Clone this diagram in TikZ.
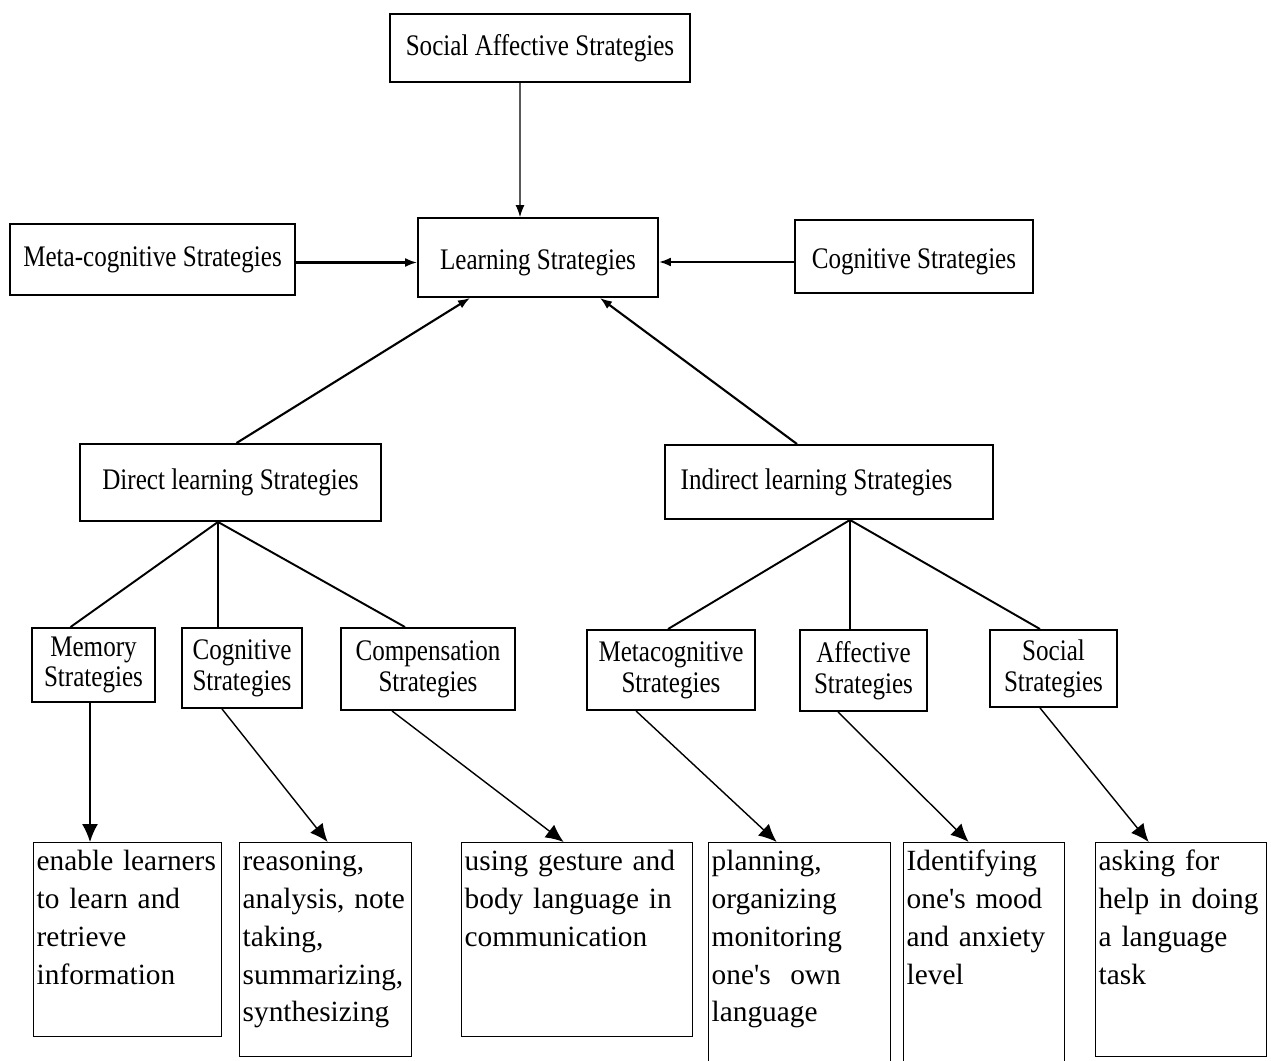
\documentclass[tikz,border=0pt]{standalone}
\usepackage{fontspec}
\setmainfont{Liberation Serif}
\newfontfamily\condfont[FakeStretch=0.84]{Liberation Serif}
\usetikzlibrary{arrows.meta}

\begin{document}
\begin{tikzpicture}[x = 0.02cm, y = -0.02cm,
        box/.style = {draw, line width = 1.1pt, align = center, inner sep = 0pt,
            font = \condfont\fontsize{17}{17.5}\selectfont},
        note/.style = {draw, line width = 0.8pt, anchor = north west, align = left,
            inner xsep = 0.06cm, inner ysep = 0pt, text height = 0.56cm,
            font = \fontsize{16.7}{21.5}\selectfont},
        up/.style = {-{Latex[length = 0.24cm, width = 0.18cm]}, line width = 1.2pt},
        down/.style = {-{Latex[length = 0.36cm, width = 0.32cm]}, line width = 0.8pt}
    ]
        \useasboundingbox (0, 0) rectangle (1271, 1061);

        \node [box, minimum width = 6cm, minimum height = 1.36cm] (social) at (540, 48) {Social Affective Strategies};
        \node [box, minimum width = 4.8cm, minimum height = 1.58cm] (learn) at (538, 257.5) {\raisebox{-0.14cm}[9pt][3pt]{Learning Strategies}};
        \node [box, minimum width = 5.7cm, minimum height = 1.42cm] (meta) at (152.5, 259.5) {Meta-cognitive Strategies};
        \node [box, minimum width = 4.76cm, minimum height = 1.46cm] (cogn) at (914, 256.5) {\raisebox{-0.14cm}[9pt][3pt]{Cognitive Strategies}};

        \node [box, minimum width = 6.02cm, minimum height = 1.54cm] (direct) at (230.5, 482.5) {Direct learning Strategies};
        \node [box, minimum width = 6.56cm, minimum height = 1.48cm] (indirect) at (829, 482) {Indirect learning Strategies\hspace{0.5cm}};

        \node [box, minimum width = 2.46cm, minimum height = 1.48cm] (memory) at (93.5, 665) {Memory\\Strategies};
        \node [box, minimum width = 2.4cm, minimum height = 1.6cm] (cogsub) at (242, 668) {Cognitive\\Strategies};
        \node [box, minimum width = 3.48cm, minimum height = 1.64cm] (comp) at (428, 669) {Compensation\\Strategies};
        \node [box, minimum width = 3.36cm, minimum height = 1.6cm] (metasub) at (671, 670) {Metacognitive\\Strategies};
        \node [box, minimum width = 2.54cm, minimum height = 1.62cm] (affect) at (863.5, 670.5) {Affective\\Strategies};
        \node [box, minimum width = 2.54cm, minimum height = 1.54cm] (socsub) at (1053.5, 668.5) {Social\\Strategies};

        \node [note, text width = 3.64cm, text depth = 3.32cm] (enable) at (33, 842)
            {enable learners\\to learn and\\retrieve\\information};
        \node [note, text width = 3.32cm, text depth = 3.72cm] (reason) at (239, 842)
            {reasoning,\\analysis, note\\taking,\\summarizing,\\synthesizing};
        \node [note, text width = 4.5cm, text depth = 3.32cm] (gesture) at (461, 842)
            {using gesture and\\body language in\\communication};
        \node [note, text width = 3.52cm, text depth = 4.04cm] (plan) at (708, 842)
            {planning,\\organizing\\monitoring\\one\textquotesingle s\ \ own\\language};
        \node [note, text width = 3.1cm, text depth = 4.04cm] (ident) at (903, 842)
            {Identifying\\one\textquotesingle s mood\\and anxiety\\level};
        \node [note, text width = 3.3cm, text depth = 3.72cm] (ask) at (1095, 842)
            {asking for\\help in doing\\a language\\task};

        % into the centre box
        \draw [up, line width = 0.6pt] ([xshift = -0.4cm]social.south) -- ([xshift = -0.36cm]learn.north);
        \draw [up] ([yshift = -0.06cm]meta.east) -- ([yshift = -0.06cm]meta.east -| learn.west);
        \draw [up] ([yshift = -0.11cm]cogn.west) -- ([yshift = -0.11cm]cogn.west -| learn.east);
        \draw [up] ([xshift = 0.12cm]direct.north) -- ([xshift = -1.36cm]learn.south);
        \draw [up] ([xshift = -0.64cm]indirect.north) -- ([xshift = 1.24cm]learn.south);

        % the two forks
        \coordinate (dfork) at ([xshift = -0.25cm]direct.south);
        \coordinate (ifork) at ([xshift = 0.42cm]indirect.south);
        \path [draw, line width = 1.1pt]
            (dfork) edge ([xshift = -0.46cm]memory.north)
            (dfork) edge ([xshift = -0.48cm]cogsub.north)
            (dfork) edge ([xshift = -0.46cm]comp.north)
            (ifork) edge ([xshift = -0.06cm]metasub.north)
            (ifork) edge ([xshift = -0.27cm]affect.north)
            (ifork) edge ([xshift = -0.27cm]socsub.north)
        ;

        % down to the examples
        \draw [down] ([xshift = -0.07cm]memory.south) -- ([xshift = -0.07cm]memory.south |- enable.north);
        \draw [down] ([xshift = -0.4cm]cogsub.south) -- ([xshift = 0.04cm]reason.north);
        \draw [down] ([xshift = -0.72cm]comp.south) -- ([xshift = -0.27cm]gesture.north);
        \draw [down] ([xshift = -0.7cm]metasub.south) -- ([xshift = -0.46cm]plan.north);
        \draw [down] ([xshift = -0.51cm]affect.south) -- ([xshift = -0.31cm]ident.north);
        \draw [down] ([xshift = -0.27cm]socsub.south) -- ([xshift = -0.65cm]ask.north);
    \end{tikzpicture}
\end{document}
